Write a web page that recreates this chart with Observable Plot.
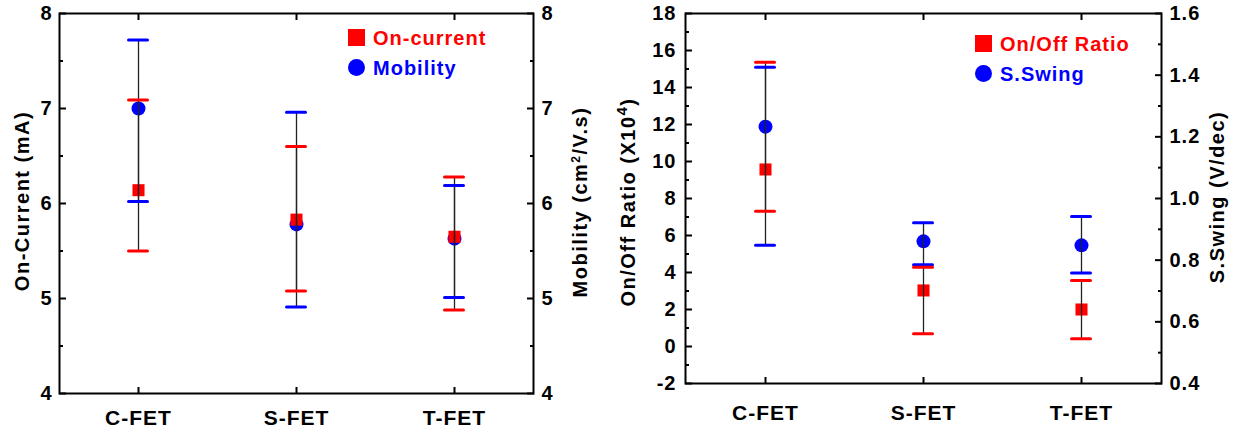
<!DOCTYPE html>
<html><head><meta charset="utf-8">
<script src="https://cdn.jsdelivr.net/npm/d3@7"></script>
<script src="https://cdn.jsdelivr.net/npm/@observablehq/plot@0.6"></script>
<style>
body{margin:0;background:#fff;}
#wrap{position:relative;width:1236px;height:435px;overflow:hidden;font-family:"Liberation Sans",Arial,sans-serif;font-weight:bold;background:#fff;}
.panel{position:absolute;top:0;height:435px;}
.panel svg{overflow:visible !important;}
.panel svg text{letter-spacing:1px;}
.leg{position:absolute;font-size:20px;letter-spacing:1px;line-height:20px;white-space:nowrap;}
.sym{position:absolute;width:17px;height:17px;}
</style></head><body><div id="wrap"></div>
<script>
// ---------- data ----------
const categories = ["C-FET", "S-FET", "T-FET"];

const onCurrent     = [6.14, 5.83, 5.65];
const onCurrentHigh = [7.09, 6.60, 6.28];
const onCurrentLow  = [5.50, 5.08, 4.88];

const mobility      = [7.00, 5.78, 5.63];
const mobilityHigh  = [7.72, 6.96, 6.19];
const mobilityLow   = [6.02, 4.91, 5.01];

const onOffRatio     = [9.57, 3.03, 2.00];
const onOffRatioHigh = [15.37, 4.29, 3.57];
const onOffRatioLow  = [7.31, 0.69, 0.42];

const sSwing     = [1.233, 0.861, 0.848];
const sSwingHigh = [1.426, 0.921, 0.942];
const sSwingLow  = [0.848, 0.785, 0.758];

const leftTicksA   = [4, 5, 6, 7, 8];
const leftMinorA   = [4.5, 5.5, 6.5, 7.5];
const rightTicksA  = [4, 5, 6, 7, 8];
const rightMinorA  = [4.5, 5.5, 6.5, 7.5];

const leftTicksB   = [-2, 0, 2, 4, 6, 8, 10, 12, 14, 16, 18];
const leftMinorB   = [-1, 1, 3, 5, 7, 9, 11, 13, 15, 17];
const rightTicksB  = [0.4, 0.6, 0.8, 1.0, 1.2, 1.4, 1.6];
const rightMinorB  = [0.5, 0.7, 0.9, 1.1, 1.3, 1.5];

const RED = "#ff0000", BLUE = "#0000ff";

function rows(v, lo, hi, f = (d) => d) {
  return categories.map((c, i) => ({cat: c, v: f(v[i]), lo: f(lo[i]), hi: f(hi[i])}));
}

function makePanel(o) {
  const A = rows(o.a.v, o.a.lo, o.a.hi);
  const B = rows(o.b.v, o.b.lo, o.b.hi, o.map);
  const blank = () => "";
  const cap = {strokeWidth: 3, strokeLinecap: "round", insetLeft: -1.5, insetRight: -1.5};
  return Plot.plot({
    width: o.w, height: 435,
    marginTop: 13, marginLeft: o.ml, marginRight: o.mr, marginBottom: o.mb,
    x: {type: "band", domain: categories, paddingInner: 0.9, paddingOuter: 0.45, axis: null},
    y: {domain: o.domain, axis: null},
    style: {fontFamily: "'Liberation Sans', Arial, sans-serif", fontSize: "20px", fontWeight: "bold",
            color: "black", background: "transparent", overflow: "visible"},
    marks: [
      Plot.axisY(o.lt, {anchor: "left", tickSize: -7, strokeWidth: 2, tickFormat: blank, label: null}),
      Plot.axisY(o.lm, {anchor: "left", tickSize: -4, strokeWidth: 2, tickFormat: blank, label: null}),
      Plot.axisY(o.lt, {anchor: "left", tickSize: 0, tickPadding: o.padL, tickFormat: (d) => String(d), label: null}),
      Plot.axisY(o.rt.map(o.map), {anchor: "right", tickSize: -7, strokeWidth: 2, tickFormat: blank, label: null}),
      Plot.axisY(o.rm.map(o.map), {anchor: "right", tickSize: -4, strokeWidth: 2, tickFormat: blank, label: null}),
      Plot.axisY(o.rt.map(o.map), {anchor: "right", tickSize: 0, tickPadding: o.padR,
        tickFormat: (d, i) => o.fmtR(o.rt[i]), label: null}),
      Plot.axisX(categories, {anchor: "bottom", tickSize: -6, strokeWidth: 2, tickFormat: blank, label: null}),
      Plot.axisX(categories, {anchor: "top", tickSize: -6, strokeWidth: 2, tickFormat: blank, label: null}),
      Plot.axisX(categories, {anchor: "bottom", tickSize: 0, tickPadding: o.padX, label: null, fontSize: 21}),
      Plot.frame({stroke: "black", strokeWidth: 2}),
      Plot.dot(B, {x: "cat", y: "v", r: 7, fill: BLUE, symbol: "circle"}),
      Plot.dot(A, {x: "cat", y: "v", r: 6.8, fill: RED, symbol: "square"}),
      Plot.ruleX(A, {x: "cat", y1: "lo", y2: "hi", stroke: "#222", strokeWidth: 1.3}),
      Plot.ruleX(B, {x: "cat", y1: "lo", y2: "hi", stroke: "#222", strokeWidth: 1.3}),
      Plot.tickY(B, {x: "cat", y: "lo", stroke: BLUE, ...cap}),
      Plot.tickY(B, {x: "cat", y: "hi", stroke: BLUE, ...cap}),
      Plot.tickY(A, {x: "cat", y: "lo", stroke: RED, ...cap}),
      Plot.tickY(A, {x: "cat", y: "hi", stroke: RED, ...cap})
    ]
  });
}

function addTitle(svg, x, y, parts) {
  const t = d3.select(svg).append("text")
    .attr("transform", `translate(${x},${y}) rotate(-90)`)
    .attr("text-anchor", "middle")
    .attr("dy", "0.35em")
    .attr("fill", "black")
    .style("font-size", "20px")
    .style("font-weight", "bold")
    .style("letter-spacing", "1.5px");
  for (const p of parts) {
    const s = t.append("tspan").text(p.t);
    if (p.sup) s.attr("baseline-shift", "super").style("font-size", p.size || "12px");
  }
}

const wrap = document.getElementById("wrap");

// ----- left panel -----
const identity = (d) => d;
const p1 = makePanel({
  a: {v: onCurrent, lo: onCurrentLow, hi: onCurrentHigh},
  b: {v: mobility, lo: mobilityLow, hi: mobilityHigh},
  map: identity, domain: [4, 8],
  lt: leftTicksA, lm: leftMinorA, rt: rightTicksA, rm: rightMinorA,
  fmtR: (d) => String(d),
  w: 600, ml: 59, mr: 67, mb: 42, padL: 7, padR: 8, padX: 17
});
addTitle(p1, 22, 201, [{t: "On-Current (mA)"}]);
addTitle(p1, 580, 202, [{t: "Mobility (cm"}, {t: "2", sup: true}, {t: "/V.s)"}]);
const d1 = document.createElement("div");
d1.className = "panel"; d1.style.left = "0px"; d1.appendChild(p1); wrap.appendChild(d1);

// ----- right panel -----
// map S.Swing (0.4..1.6) onto the On/Off axis (-2..18)
const swingToRatio = (s) => (s - 0.4) / 0.06 - 2;
const p2 = makePanel({
  a: {v: onOffRatio, lo: onOffRatioLow, hi: onOffRatioHigh},
  b: {v: sSwing, lo: sSwingLow, hi: sSwingHigh},
  map: swingToRatio, domain: [-2, 18],
  lt: leftTicksB, lm: leftMinorB, rt: rightTicksB, rm: rightMinorB,
  fmtR: (d) => d.toFixed(1),
  w: 636, ml: 85, mr: 75, mb: 52, padL: 9, padR: 8, padX: 22
});
addTitle(p2, 28, 202, [{t: "On/Off Ratio (X10"}, {t: "4", sup: true, size: "15px"}, {t: ")"}]);
addTitle(p2, 617, 197, [{t: "S.Swing (V/dec)"}]);
const d2 = document.createElement("div");
d2.className = "panel"; d2.style.left = "600px"; d2.appendChild(p2); wrap.appendChild(d2);

// ----- legends -----
function legend(x, y, shape, color, label) {
  const s = document.createElement("div");
  s.className = "sym";
  s.style.left = x + "px"; s.style.top = y + "px"; s.style.background = color;
  if (shape === "circle") s.style.borderRadius = "50%";
  wrap.appendChild(s);
  const t = document.createElement("div");
  t.className = "leg";
  t.style.left = (x + 25) + "px"; t.style.top = (y - 1) + "px"; t.style.color = color;
  t.textContent = label;
  wrap.appendChild(t);
}
legend(348, 29, "square", RED, "On-current");
legend(348, 59, "circle", BLUE, "Mobility");
legend(975, 35, "square", RED, "On/Off Ratio");
legend(975, 65, "circle", BLUE, "S.Swing");
</script>
</body></html>
